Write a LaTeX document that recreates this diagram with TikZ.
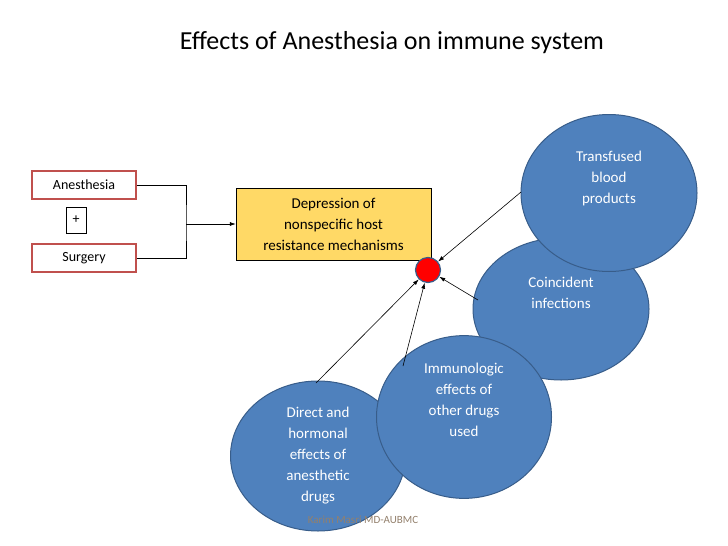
\documentclass[tikz,border=0pt]{standalone}
\usepackage{fontspec}
\setmainfont{Carlito}
\definecolor{eblue}{HTML}{4F81BD}
\definecolor{eedge}{HTML}{385D8A}
\definecolor{ybox}{HTML}{FFD966}
\definecolor{rbox}{HTML}{C0504D}
\begin{document}
\begin{tikzpicture}[x=1pt,y=-1pt,
  redbox/.style={draw=rbox,line width=1.5pt,fill=white,minimum width=104pt,minimum height=28pt,font=\fontsize{14}{16}\selectfont},
  bub/.style={ellipse,draw=eedge,line width=1pt,fill=eblue,text=white,align=center,font=\fontsize{15}{21}\selectfont},
  arr/.style={-{Latex[length=6pt,width=4pt]},line width=0.6pt}]
\usetikzlibrary{shapes.geometric,arrows.meta}
\useasboundingbox (0,0) rectangle (728,546);
\node (title) at (392,43) {\fontsize{26}{30}\selectfont Effects of Anesthesia on immune system};
\node[redbox] (an) at (84,185) {Anesthesia};
\node[draw,minimum width=20pt,minimum height=26pt,font=\fontsize{14}{16}\selectfont] (plus) at (76,220) {+};
\node[redbox] (su) at (84,258) {Surgery};
\node[draw,fill=ybox,minimum width=195pt,minimum height=72pt,align=center,font=\fontsize{15}{21}\selectfont] (dep) at (333.5,224) {Depression of\\nonspecific host\\resistance mechanisms};
\coordinate (j) at (186,224);
\draw[line width=0.6pt] (an.east) -| (j) |- (su.east);
\draw[arr] (j) -- (dep.west);
\node[bub,minimum width=176pt,minimum height=142pt] (co) at (561,309) {Coincident\\infections\\[12pt]};
\node[bub,minimum width=176pt,minimum height=157pt] (tr) at (609,193) {Transfused\\blood\\products\\[10pt]};
\node[bub,minimum width=175pt,minimum height=150pt] (di) at (318,456) {Direct and\\hormonal\\effects of\\anesthetic\\drugs};
\node[bub,minimum width=175pt,minimum height=146pt] (im) at (464,417) {Immunologic\\effects of\\other drugs\\used\\[14pt]};
\node[circle,draw=eedge,line width=1.2pt,fill=red,minimum size=25pt,inner sep=0pt] (dot) at (428,270) {};
\draw[arr] (521,192) coordinate (t1) -- (dot);
\draw[arr] (478,300) coordinate (c1) -- (dot);
\draw[arr] (403,366) coordinate (i1) -- (dot);
\draw[arr] (316,383) coordinate (d1) -- (dot);
\node[text=gray!70!brown,font=\fontsize{11}{13}\selectfont] (wm) at (363,520) {Karim Masri MD-AUBMC};
\end{tikzpicture}
\end{document}
